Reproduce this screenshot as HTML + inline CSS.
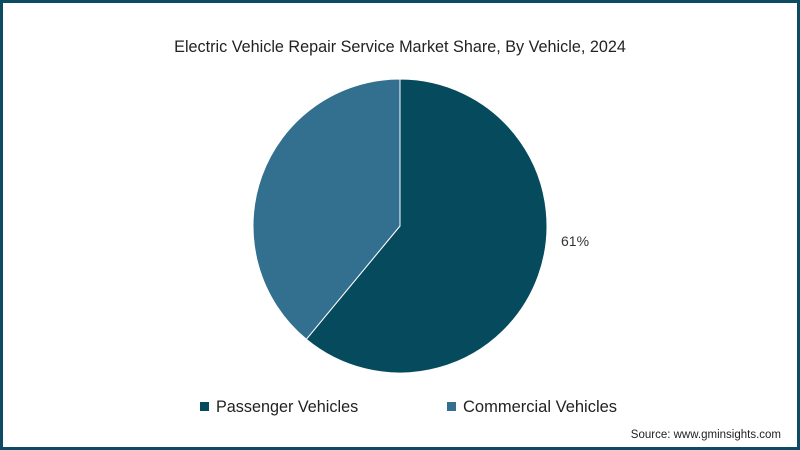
<!DOCTYPE html>
<html><head><meta charset="utf-8"><style>
body{margin:0;width:800px;height:450px;overflow:hidden;font-family:"Liberation Sans",sans-serif;}
#frame{position:absolute;left:0;top:0;width:794px;height:444px;border:3px solid #0d4a63;background:#fff;}
</style></head><body>
<div id="frame"></div>
<svg width="800" height="450" style="position:absolute;left:0;top:0">
<text x="400" y="52" text-anchor="middle" font-size="16.2" fill="#222">Electric Vehicle Repair Service Market Share, By Vehicle, 2024</text>
<g id="slices"></g>
<text x="561" y="246" font-size="14" fill="#333" id="lbl"></text>
<rect x="200" y="402" width="9" height="9" fill="#064a5e"/>
<text x="216" y="412" font-size="16.2" fill="#222">Passenger Vehicles</text>
<rect x="447" y="402" width="9" height="9" fill="#336f8f"/>
<text x="463" y="412" font-size="16.5" fill="#222">Commercial Vehicles</text>
<text x="781" y="438" text-anchor="end" font-size="11.5" fill="#222">Source: www.gminsights.com</text>
</svg>
<script>
const categories=["Passenger Vehicles","Commercial Vehicles"];
const values=[61,39];
const colors=["#064a5e","#336f8f"];
const cx=400,cy=226,r=147;
const g=document.getElementById('slices');
const total=values.reduce((a,b)=>a+b,0);
let a0=0;
values.forEach((v,i)=>{
  const a1=a0+v/total*2*Math.PI;
  const p=(a)=>[cx+r*Math.sin(a),cy-r*Math.cos(a)];
  const [x0,y0]=p(a0),[x1,y1]=p(a1);
  const path=document.createElementNS('http://www.w3.org/2000/svg','path');
  path.setAttribute('d',`M${cx},${cy}L${x0},${y0}A${r},${r} 0 ${a1-a0>Math.PI?1:0} 1 ${x1},${y1}Z`);
  path.setAttribute('fill',colors[i]);
  path.setAttribute('stroke','#fff');
  path.setAttribute('stroke-width','1');
  
  
  g.appendChild(path);
  a0=a1;
});
document.getElementById('lbl').textContent=values[0]+'%';
</script>
</body></html>
